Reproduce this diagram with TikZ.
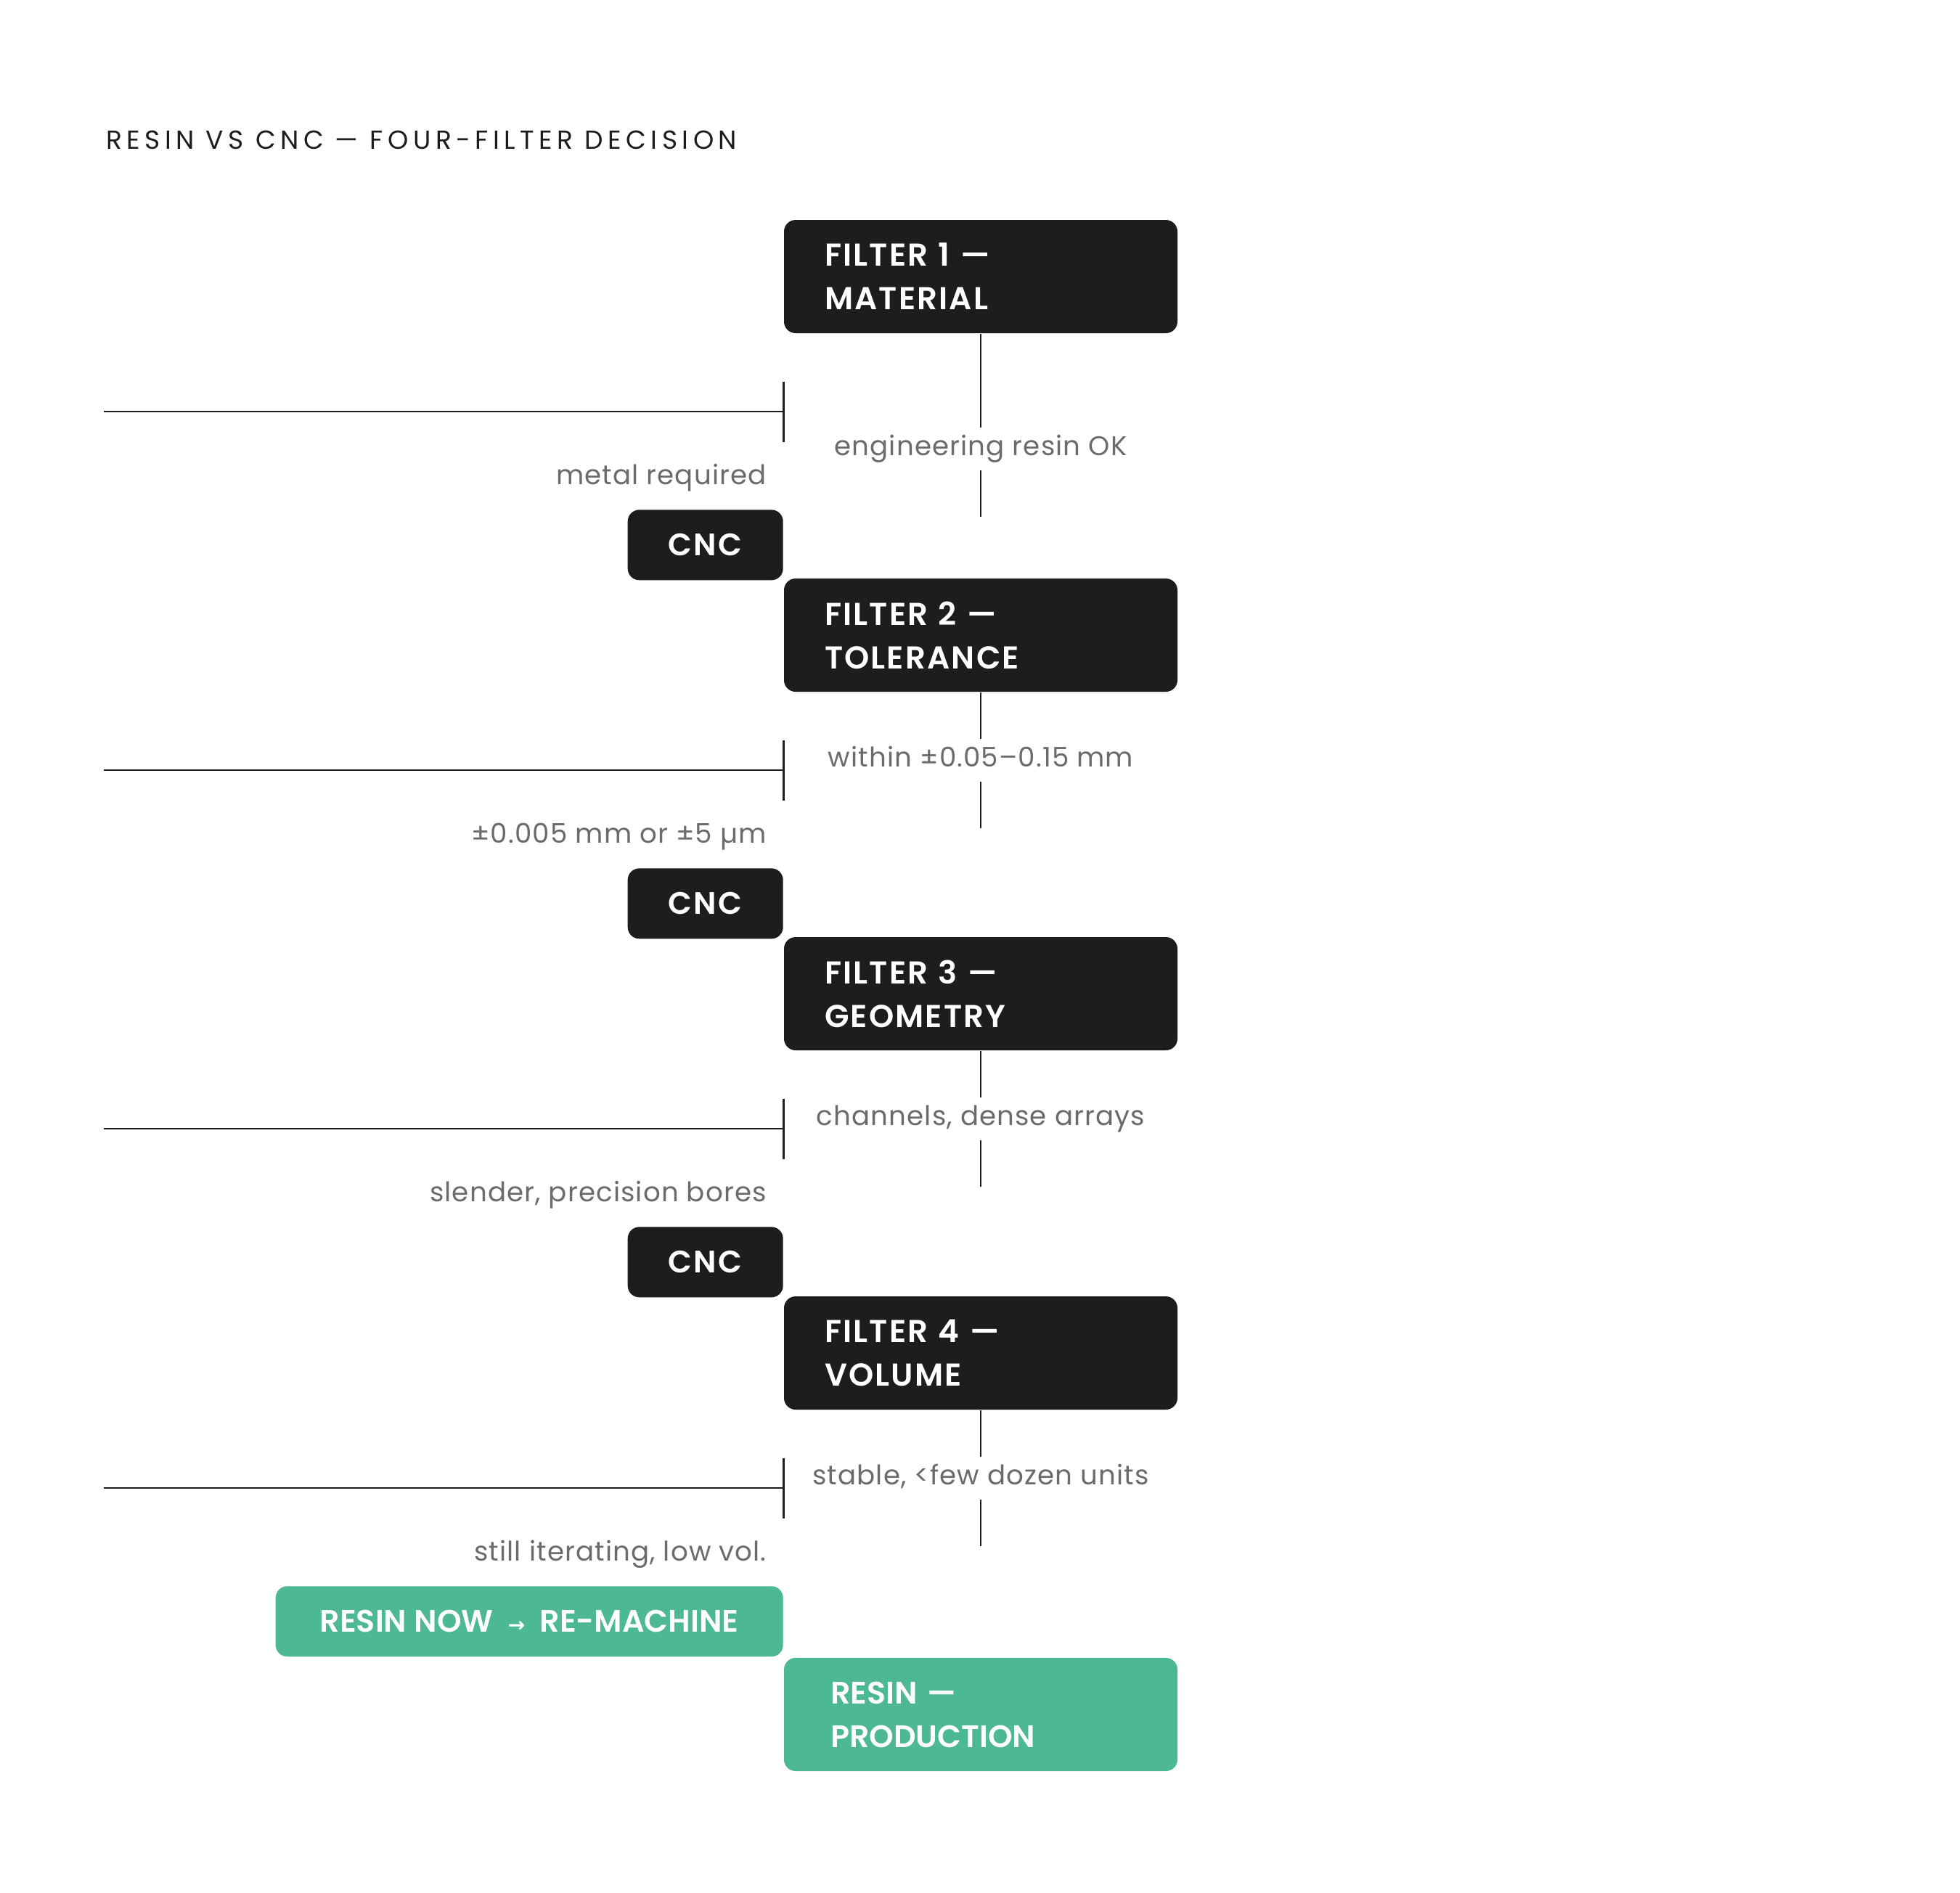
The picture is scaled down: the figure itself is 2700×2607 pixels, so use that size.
\documentclass[tikz,border=0pt]{standalone}
\usepackage{fontspec}
\setmainfont{Poppins}[BoldFont={Poppins SemiBold}]
\newfontfamily\titlefont[LetterSpace=18]{Poppins}
\newfontfamily\notefont[LetterSpace=3]{Poppins}
\newfontfamily\boxfont[LetterSpace=5, BoldFont={Poppins SemiBold}]{Poppins}
\newfontfamily\arrowfont{DejaVu Sans}
\usetikzlibrary{arrows.meta}
\definecolor{ink}{HTML}{1C1E1D}
\definecolor{mint}{HTML}{4DB894}
\definecolor{notegray}{HTML}{6B6B6B}

\begin{document}
\begin{tikzpicture}[x=0.25pt, y=-0.25pt, line width=0.65pt, draw=ink,
    filter/.style={fill=ink, text=white, rounded corners=4pt, minimum width=135.5pt, minimum height=39pt,
      inner xsep=14pt, text width=107.5pt, align=left, font=\boxfont\bfseries\fontsize{10.9}{15}\selectfont},
    cnc/.style={fill=ink, text=white, rounded corners=4pt, minimum width=53.5pt, minimum height=24.25pt,
      inner sep=0pt, font=\boxfont\bfseries\fontsize{10.7}{13}\selectfont},
    now/.style={fill=mint, text=white, rounded corners=4pt, minimum width=174.75pt, minimum height=24.25pt,
      inner sep=0pt, font=\bfseries\fontsize{10.7}{13}\selectfont},
    resin/.style={fill=mint, text=white, rounded corners=4pt, minimum width=135.5pt, minimum height=39pt,
      inner xsep=16pt, text width=103.5pt, align=left, font=\bfseries\fontsize{10.7}{15}\selectfont},
    yeslabel/.style={text=notegray, inner sep=0pt, text height=9.25pt, text depth=5pt,
      font=\notefont\fontsize{9.3}{11}\selectfont},
    nolabel/.style={text=notegray, inner sep=0pt, font=\notefont\fontsize{9.3}{11}\selectfont}]
  \fill[white] (0,0) rectangle (2700,2607);
  \node[anchor=base west, inner sep=0pt, text=ink, font=\titlefont\fontsize{9}{11}\selectfont]
    (title) at (145,205) {RESIN VS CNC — FOUR-FILTER DECISION};
  \foreach \i/\top/\what/\yes/\no/\drop/\kind/\out in {
      1/303/MATERIAL/{engineering resin OK}/{metal required}/168/cnc/CNC,
      2/797/TOLERANCE/{within ±0.05–0.15 mm}/{±0.005 mm or ±5 µm}/103/cnc/CNC,
      3/1291/GEOMETRY/{channels, dense arrays}/{slender, precision bores}/103/cnc/CNC,
      4/1786/VOLUME/{stable, <few dozen units}/{still iterating, low vol.}/103/now/{RESIN NOW\ \ {\arrowfont\fontsize{7}{8}\selectfont →}\ \ RE-MACHINE}}{
    \node[filter] (f\i) at (1351,{\top+78}) {FILTER \i\ —\\\what};
    % pass: down, broken by its label
    \node[yeslabel, anchor=base] (y\i) at (1351,{\top+156+\drop}) {\yes};
    \coordinate (e\i) at (1351,{\top+241+\drop});
    \draw (f\i.south) -- (y\i.north) (y\i.south) -- (e\i);
    % fail: out to the left
    \coordinate (r\i) at (143,{\top+264});
    \coordinate (t\i) at (1081,{\top+264});
    \draw[-{Bar[width=20.75pt]}] (r\i) -- (t\i);
    \node[nolabel, anchor=base east] (n\i) at (1057,{\top+364}) {\no};
    \node[\kind, anchor=north east] (c\i) at (1080,{\top+398}) {\out};
  }
  \node[resin] (prod) at (1351,2362) {RESIN —\\PRODUCTION};
\end{tikzpicture}
\end{document}
